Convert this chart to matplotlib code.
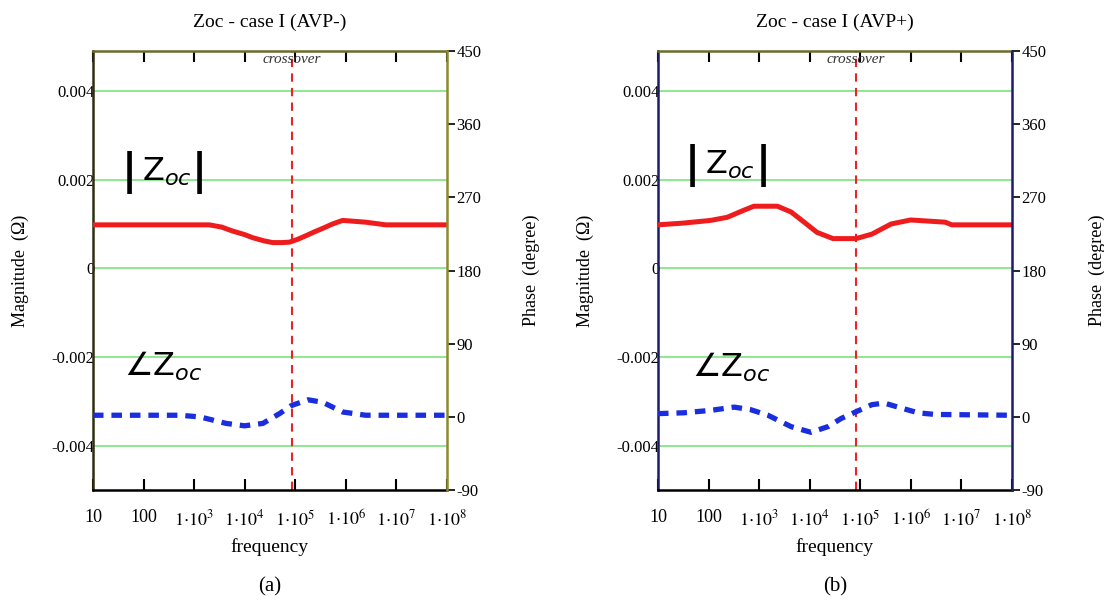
import matplotlib
matplotlib.use("Agg")
import matplotlib.pyplot as plt

plt.rcParams["font.family"] = ["Liberation Serif", "DejaVu Serif"]
plt.rcParams["mathtext.fontset"] = "stix"

# ---- data ----
FREQ_TICKS = [1e1, 1e2, 1e3, 1e4, 1e5, 1e6, 1e7, 1e8]
FREQ_LABELS = ["10", "100", r"$1{\cdot}10^{3}$", r"$1{\cdot}10^{4}$", r"$1{\cdot}10^{5}$",
               r"$1{\cdot}10^{6}$", r"$1{\cdot}10^{7}$", r"$1{\cdot}10^{8}$"]
MAG_TICKS = [-0.004, -0.002, 0, 0.002, 0.004]
MAG_LABELS = ["-0.004", "-0.002", "0", "0.002", "0.004"]
PHASE_TICKS = [-90, 0, 90, 180, 270, 360, 450]

# case (a) AVP-
mag_a_f = [10, 2.0e3, 3.5e3, 5.8e3, 1.0e4, 1.45e4, 2.4e4, 3.6e4, 5.5e4, 7.7e4, 1.1e5, 1.6e5,
           2.5e5, 3.5e5, 5.5e5, 8.7e5, 2.5e6, 6.2e6, 1e8]
mag_a = [0.00098, 0.00098, 0.00093, 0.00084, 0.00076, 0.00069, 0.00062, 0.00058, 0.00058,
         0.00059, 0.00065, 0.00073, 0.00083, 0.00090, 0.00100, 0.00108, 0.00104, 0.00098,
         0.00098]
ph_a_f = [10, 520, 1.3e3, 4.3e3, 1.0e4, 2.3e4, 4.9e4, 8.5e4, 1.8e5, 3.5e5, 8.7e5, 2.5e6, 1e8]
ph_a = [2, 2, 0, -8, -11, -8, 4, 14, 21, 18, 6, 2, 2]
cross_a = 8.5e4

# case (b) AVP+
mag_b_f = [10, 32, 110, 234, 500, 790, 2.3e3, 4.3e3, 7.8e3, 1.4e4, 2.9e4, 8.3e4, 1.7e5,
           4.1e5, 1.0e6, 4.8e6, 6.5e6, 1e8]
mag_b = [0.00098, 0.00102, 0.00108, 0.00115, 0.00131, 0.00140, 0.00140, 0.00127, 0.00104,
         0.00081, 0.00067, 0.00067, 0.00077, 0.00100, 0.00109, 0.00104, 0.00098, 0.00098]
ph_b_f = [10, 32, 110, 320, 670, 1.5e3, 4.3e3, 1.07e4, 2.3e4, 4.2e4, 8.1e4, 1.7e5, 3.0e5,
          5.6e5, 1.4e6, 3.0e6, 1e8]
ph_b = [4, 5, 8, 12, 9, 2, -12, -19, -12, -2, 6, 15, 17, 12, 5, 3, 2]
cross_b = 8.1e4

# title, tag, data, crossover, axes left, spine colours, label anchors (axes fraction)
PANELS = [
    ("Zoc - case I (AVP-)", "(a)", mag_a_f, mag_a, ph_a_f, ph_a, cross_a,
     0.0842, "#2e2e10", "#8a8a30", (0.104, 0.301, 0.724), (0.088, 0.282)),
    ("Zoc - case I (AVP+)", "(b)", mag_b_f, mag_b, ph_b_f, ph_b, cross_b,
     0.5960, "#1c1c6e", "#1c1c6e", (0.097, 0.298, 0.740), (0.097, 0.280)),
]

fig = plt.figure(figsize=(11.04, 6.05), dpi=100)
fig.patch.set_facecolor("white")

for (title, tag, mf, mv, pf, pv, cross, left, lcol, rcol,
     (bar_l, bar_r, bar_y), (ang_x, ang_y)) in PANELS:
    ax = fig.add_axes([left, 0.190, 0.3205, 0.7257])
    ax.set_xscale("log")
    ax.set_xlim(10, 1e8)
    ax.set_ylim(-0.005, 0.0049)
    ax.minorticks_off()

    for y in MAG_TICKS:
        ax.axhline(y, color="#8fe88f", lw=1.4, zorder=1)
    ax.axvline(cross, color="#e8242a", lw=1.5, ls=(0, (4, 3)), zorder=2)
    ax.plot(mf, mv, color="#ee1c1c", lw=3.6, solid_capstyle="round",
            solid_joinstyle="round", zorder=4)

    ax.set_xticks(FREQ_TICKS)
    ax.set_xticklabels(FREQ_LABELS, fontsize=13)
    ax.tick_params(axis="x", which="major", direction="in", length=8, width=1.5,
                   top=True, color="black", pad=14)
    ax.set_yticks(MAG_TICKS)
    ax.set_yticklabels(MAG_LABELS, fontsize=12)
    ax.tick_params(axis="y", length=0, pad=-1)

    ax.spines["left"].set_color(lcol)
    ax.spines["left"].set_linewidth(1.8)
    ax.spines["bottom"].set_color("black")
    ax.spines["bottom"].set_linewidth(1.8)
    ax.spines["top"].set_color("#6b6b2a")
    ax.spines["top"].set_linewidth(1.8)
    ax.spines["top"].set_linestyle((0, (1, 1)))
    ax.spines["right"].set_visible(False)

    ax2 = ax.twinx()
    ax2.set_ylim(-90, 450)
    ax2.plot(pf, pv, color="#1a2ee0", lw=3.8, ls=(0, (2.0, 1.5)), zorder=4)
    ax2.set_yticks(PHASE_TICKS)
    ax2.set_yticklabels([str(t) for t in PHASE_TICKS], fontsize=12)
    ax2.tick_params(axis="y", direction="out", length=6, width=1.2, pad=1)
    for side in ("left", "top", "bottom"):
        ax2.spines[side].set_visible(False)
    ax2.spines["right"].set_color(rcol)
    ax2.spines["right"].set_linewidth(1.8)

    ax.set_title(title, fontsize=14, pad=17)
    ax.set_xlabel("frequency", fontsize=14, labelpad=6)
    ax.set_ylabel("Magnitude  (Ω)", fontsize=13, labelpad=16)
    ax2.set_ylabel("Phase  (degree)", fontsize=13, labelpad=30)

    ax.text(cross, 0.0047, "crossover", ha="center", va="center", fontsize=11,
            style="italic", color="#333333", zorder=5)

    # |Z_oc| with tall bars, upright Z and italic subscript
    for bx in (bar_l, bar_r):
        ax.text(bx, bar_y, "|", transform=ax.transAxes, fontsize=30, fontweight="bold",
                family="DejaVu Sans", ha="center", va="center")
    ax.text(bar_l + 0.035, bar_y, r"Z$_{oc}$", transform=ax.transAxes, family="DejaVu Sans",
            fontsize=23, math_fontfamily="dejavusans", va="center", ha="left")
    ax.text(ang_x, ang_y, r"$\angle$Z$_{oc}$", transform=ax.transAxes, family="DejaVu Sans",
            fontsize=23, math_fontfamily="dejavusans", va="center", ha="left")

    fig.text(left + 0.3205 / 2, 0.03, tag, ha="center", va="center", fontsize=15)

fig.savefig("out.png", dpi=100, facecolor="white")
